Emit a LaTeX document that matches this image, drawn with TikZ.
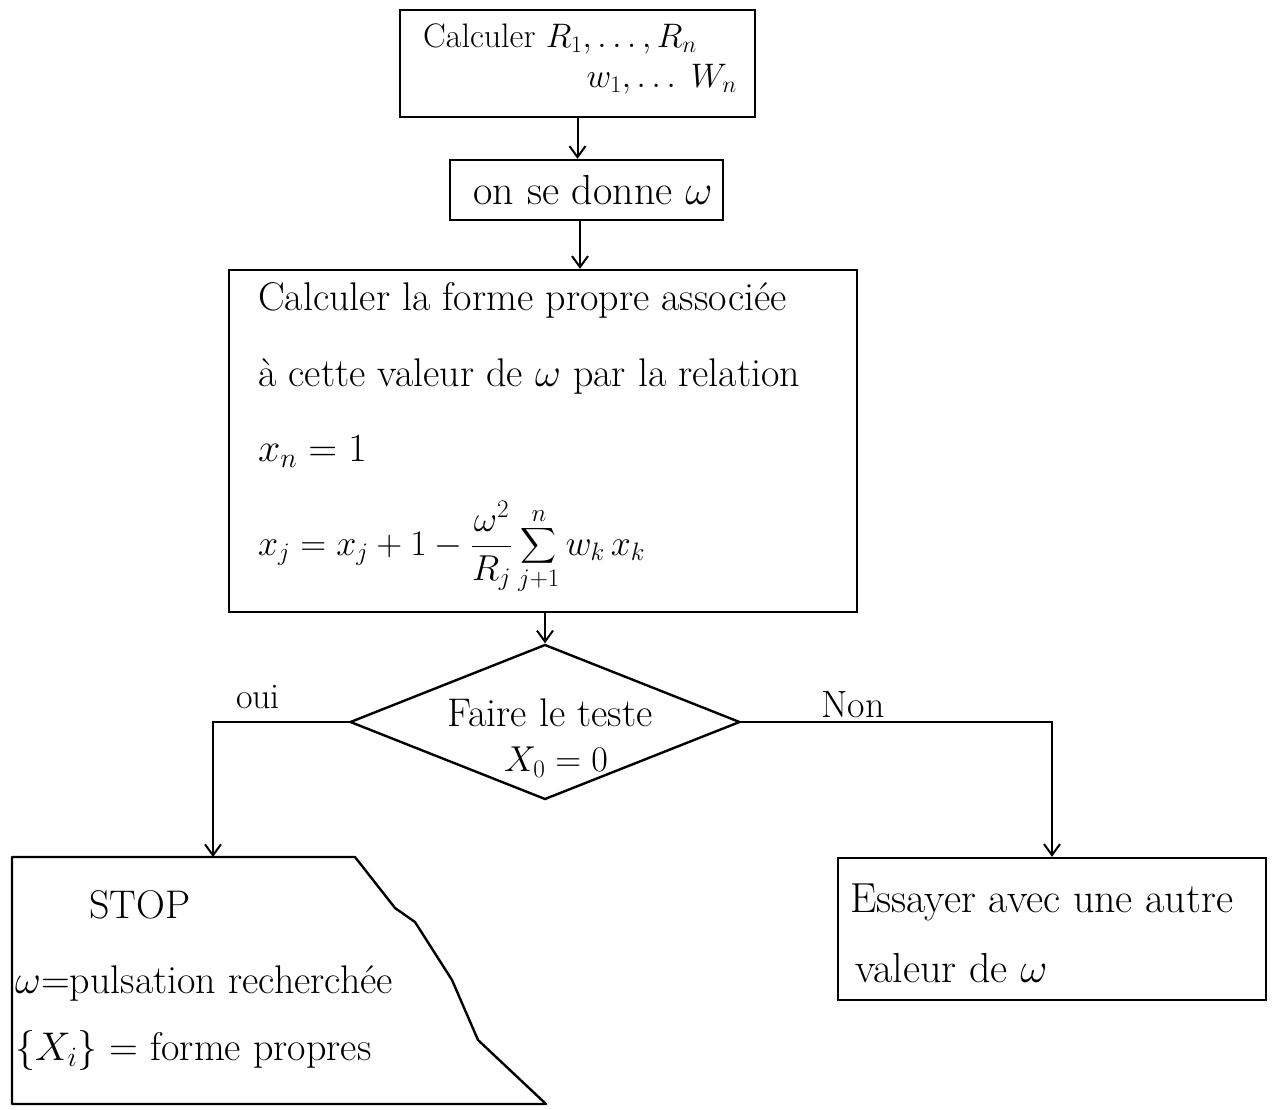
\RequirePackage{fix-cm}
\documentclass[tikz,border=0pt]{standalone}
\usepackage{exscale}
\usetikzlibrary{arrows.meta,shapes.geometric}
\begin{document}
\begin{tikzpicture}[x=1pt,y=-1pt,
  box/.style={draw,line width=2.4pt,inner sep=0pt,minimum width=#1},
  txt/.style={inner sep=0pt,font=\fontsize{40}{48}\selectfont},
  ltxt/.style={txt,anchor=west},
  conn/.style={line width=2pt,-{Straight Barb[length=11pt,width=16pt,line width=2pt]}},
  edge/.style={line width=2.4pt}]
\useasboundingbox (0,0) rectangle (1275,1110);
% boxes
\node[box=355pt,minimum height=107pt] (b1) at (577.5,63.5) {};
\node[ltxt,font=\fontsize{34}{40}\selectfont] (t1a) at (423,39) {Calculer $R_1,\ldots,R_n$};
\node[txt,anchor=east,font=\fontsize{34}{40}\selectfont] (t1b) at (737,79) {$w_1,\ldots\; W_n$};
\node[box=273pt,minimum height=60pt] (b2) at (586.5,190) {};
\node[txt,font=\fontsize{42}{50}\selectfont] (t2) at (593,190) {on se donne $\omega$};
\node[box=628pt,minimum height=342pt] (b3) at (543,441) {};
\node[ltxt] (t3a) at (258,300) {Calculer la forme propre associée};
\node[ltxt] (t3b) at (258,376) {à cette valeur de $\omega$ par la relation};
\node[ltxt] (t3c) at (258,452) {$x_n = 1$};
\node[ltxt,font=\fontsize{36}{43}\selectfont] (t3d) at (258,548) {$\displaystyle x_j = x_j+1 - \frac{\omega^2}{R_j}\sum_{j+1}^{n} w_k\,x_k$};
% decision
\node[draw,diamond,line width=2.4pt,inner sep=0pt,minimum width=390pt,minimum height=155pt,aspect=2.52] (dia) at (545,722) {};
\node[txt] (t4a) at (550,713) {Faire le teste};
\node[txt,font=\fontsize{36}{43}\selectfont] (t4b) at (556,762) {$X_0 = 0$};
% stop shape
\coordinate (stoptop) at (213,857);
\draw[edge,line join=round] (12,857) -- (355,857) -- (395,908) -- (415,922) -- (452,980) -- (478,1040) -- (546,1104) -- (12,1104) -- cycle;
\node[txt] (t5a) at (140,905) {STOP};
\node[ltxt] (t5b) at (15,983) {$\omega$=pulsation recherchée};
\node[ltxt] (t5c) at (15,1050) {$\{X_i\}$ = forme propres};
% essayer
\node[box=428pt,minimum height=142pt] (b5) at (1052,929) {};
\node[ltxt,font=\fontsize{42}{50}\selectfont] (t6a) at (850,902) {Essayer avec une autre};
\node[ltxt,font=\fontsize{42}{50}\selectfont] (t6b) at (855,968) {valeur de $\omega$};
% labels
\node[txt,font=\fontsize{36}{43}\selectfont] (oui) at (258,697) {oui};
\node[txt,font=\fontsize{38}{46}\selectfont] (non) at (853,705) {Non};
% connectors
\draw[conn] (b1.south) -- (b1.south |- b2.north);
\draw[conn] ([xshift=-6.5pt]b2.south) -- ([xshift=-6.5pt]b2.south |- b3.north);
\draw[conn] (b3.south -| dia.north) -- (dia.north);
\draw[conn] (dia.west) -| (stoptop);
\draw[conn] (dia.east) -| (b5.north);
\end{tikzpicture}
\end{document}
